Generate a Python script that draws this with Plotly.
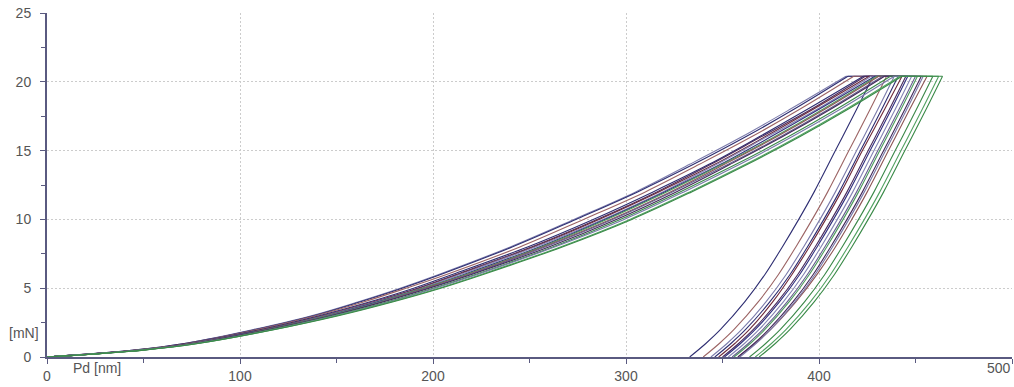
import plotly.graph_objects as go

# Load levels (mN) at which depths were read for the loading branch
LOAD_P = [0, 0.5, 1, 2, 3, 4, 5, 6, 8, 10, 12, 14, 16, 18, 20.4]
# Load levels (mN) for the unloading branch
UNLOAD_P = [20.4, 18, 15, 12, 10, 8, 6, 4, 2, 1, 0]
HOLD_P = 20.4

# Per-curve colours
COLORS = ["#7c7cac", "#2e2e72", "#9c6464", "#2e2e72", "#4a2c5e", "#6e2a3a",
          "#8484b4", "#30307e", "#4c9c5c", "#8c5454", "#66608e", "#42285a",
          "#3a8848", "#7878a8", "#52a262", "#3a8a48"]

# Loading depths (nm) at LOAD_P, one list per indent
LOAD_D = [
    [0, 45, 72, 107, 137, 161, 183, 203, 240, 273, 305, 333, 360, 385, 414],
    [0, 45, 72, 108, 138, 162, 184, 204, 241, 274, 306, 335, 362, 387, 415],
    [0, 46, 73, 109, 139, 164, 186, 207, 245, 278, 310, 338, 365, 390, 418],
    [0, 47, 74, 111, 141, 167, 190, 210, 249, 283, 314, 343, 369, 394, 423],
    [0, 47, 74, 112, 143, 169, 192, 212, 251, 285, 316, 344, 370, 396, 424],
    [0, 47, 75, 112, 143, 169, 193, 213, 252, 286, 317, 346, 372, 397, 426],
    [0, 47, 75, 113, 144, 170, 194, 214, 253, 288, 319, 347, 373, 399, 427],
    [0, 48, 76, 113, 145, 171, 195, 216, 255, 289, 320, 349, 375, 400, 429],
    [0, 48, 76, 114, 145, 172, 195, 217, 256, 290, 321, 350, 377, 402, 430],
    [0, 48, 76, 114, 146, 173, 196, 218, 257, 292, 323, 351, 378, 403, 431],
    [0, 48, 77, 115, 146, 173, 197, 219, 258, 293, 324, 353, 380, 405, 433],
    [0, 49, 77, 115, 147, 174, 198, 220, 260, 295, 326, 354, 381, 406, 434],
    [0, 49, 78, 116, 148, 176, 200, 222, 262, 297, 328, 357, 384, 409, 437],
    [0, 49, 78, 117, 149, 177, 201, 223, 263, 299, 330, 359, 386, 411, 439],
    [0, 50, 79, 118, 150, 178, 203, 225, 266, 302, 333, 362, 389, 414, 442],
    [0, 50, 79, 118, 151, 179, 204, 226, 267, 303, 334, 363, 390, 415, 443],
]

# Unloading depths (nm) at UNLOAD_P, same indent order as LOAD_D
UNLOAD_D = [
    [439, 430.5, 419.5, 408.5, 400.5, 392, 383, 372.5, 360, 352.5, 344],
    [428, 419.5, 408.5, 397.5, 389.5, 381, 372, 361.5, 349, 341.5, 333],
    [435, 426.5, 415.5, 404.5, 396.5, 388, 379, 368.5, 356, 348.5, 340],
    [441, 432.5, 421.5, 410.5, 402.5, 394, 385, 374.5, 362, 354.5, 346],
    [445, 436.5, 425.5, 414.5, 406.5, 398, 389, 378.5, 366, 358.5, 350],
    [443, 434.0, 422.5, 411.5, 403.5, 395, 386, 376.0, 364, 356.5, 348],
    [448, 439.5, 428.5, 417.5, 409.5, 401, 392, 381.5, 369, 361.5, 353],
    [446, 437.5, 426.5, 415.5, 407.5, 399, 390, 379.5, 367, 359.5, 351],
    [451, 442.5, 431.5, 420.5, 412.5, 404, 395, 384.5, 372, 364.5, 356],
    [456, 447.0, 436.0, 425.0, 417.0, 408.5, 399, 388.0, 375, 367.0, 358],
    [450, 441.5, 430.5, 419.5, 411.5, 403, 394, 383.5, 371, 363.5, 355],
    [453, 444.5, 433.5, 422.5, 414.5, 406, 397, 386.5, 374, 366.5, 358],
    [459, 450.5, 439.5, 428.5, 420.5, 412, 403, 392.5, 380, 372.5, 364],
    [454, 445.5, 434.5, 423.5, 415.5, 407, 398, 387.5, 375, 367.5, 359],
    [462, 453.5, 442.5, 431.5, 423.5, 415, 406, 395.5, 383, 375.5, 367],
    [464, 455.5, 444.5, 433.5, 425.5, 417, 408, 397.5, 385, 377.5, 369],
]

X_TICKS = [0, 100, 200, 300, 400, 500]
Y_TICKS = [0, 5, 10, 15, 20, 25]

fig = go.Figure()
for col, ld, ud in zip(COLORS, LOAD_D, UNLOAD_D):
    fig.add_trace(go.Scatter(x=ld, y=LOAD_P, mode="lines",
                             line=dict(color=col, width=1.1, shape="spline", smoothing=1.0),
                             showlegend=False, hoverinfo="skip"))
    fig.add_trace(go.Scatter(x=[ld[-1], ud[0]], y=[HOLD_P, HOLD_P], mode="lines",
                             line=dict(color=col, width=1.1),
                             showlegend=False, hoverinfo="skip"))
    fig.add_trace(go.Scatter(x=ud, y=UNLOAD_P, mode="lines",
                             line=dict(color=col, width=1.1, shape="spline", smoothing=1.0),
                             showlegend=False, hoverinfo="skip"))

axis_font = dict(family="Liberation Sans, Arial, sans-serif", size=14, color="#555555")
fig.update_layout(
    width=1014, height=387,
    margin=dict(l=47, r=2, t=13, b=30),
    paper_bgcolor="white", plot_bgcolor="white",
    font=axis_font,
)
# last x tick label is drawn as an annotation flush with the right edge
x_text = [str(v) for v in X_TICKS[:-1]] + [""]
fig.update_xaxes(
    range=[0, 500], tickvals=X_TICKS, ticktext=x_text,
    showline=True, linecolor="#5a5a80", linewidth=2,
    ticks="outside", ticklen=5, tickcolor="#5a5a80",
    minor=dict(dtick=50, ticks="outside", ticklen=4, tickcolor="#5a5a80", showgrid=False),
    showgrid=True, gridcolor="#cccccc", griddash="2px,2px", gridwidth=1,
    zeroline=False, automargin=False, tickfont=axis_font, ticklabeloverflow="allow",
)
fig.update_yaxes(
    range=[0, 25], tickvals=Y_TICKS, ticktext=[str(v) for v in Y_TICKS],
    showline=True, linecolor="#5a5a80", linewidth=2,
    ticks="outside", ticklen=5, tickcolor="#5a5a80",
    minor=dict(dtick=2.5, ticks="outside", ticklen=4, tickcolor="#5a5a80", showgrid=False),
    showgrid=True, gridcolor="#cccccc", griddash="2px,2px", gridwidth=1,
    zeroline=False, automargin=False, tickfont=axis_font, ticklabelstandoff=6,
    ticklabeloverflow="allow",
)
fig.add_annotation(text=str(X_TICKS[-1]), xref="paper", yref="paper", x=1.0015, y=-0.032,
                   showarrow=False, font=axis_font, xanchor="right", yanchor="middle")
fig.add_annotation(text="[mN]", xref="paper", yref="paper", x=-0.0238, y=0.07,
                   showarrow=False, font=axis_font, xanchor="center", yanchor="middle")
fig.add_annotation(text="Pd [nm]", xref="paper", yref="paper", x=0.052, y=-0.032,
                   showarrow=False, font=axis_font, xanchor="center", yanchor="middle")

fig.write_html("out.html", config={"displayModeBar": False},
               post_script="document.body.style.margin='0';document.body.style.overflow='hidden';")
